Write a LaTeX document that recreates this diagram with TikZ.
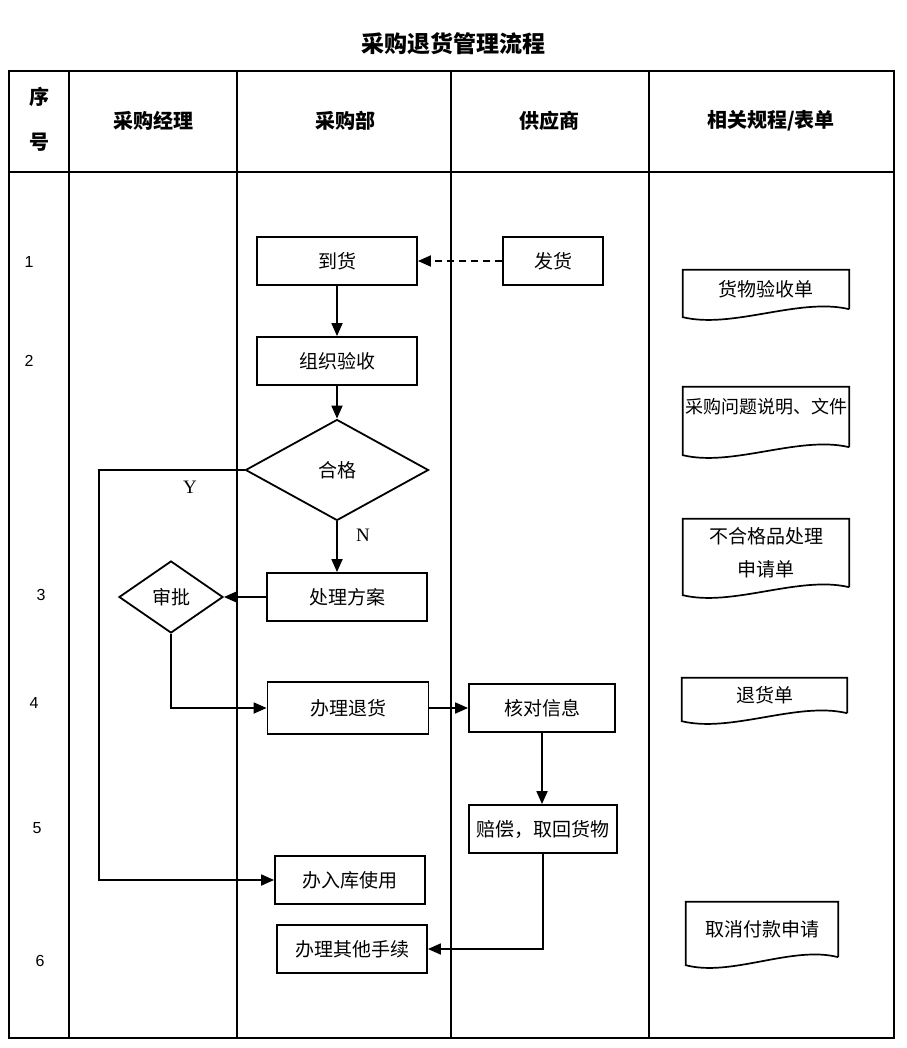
\documentclass[tikz,border=0pt]{standalone}
\usepackage{fontspec}
\setmainfont{Noto Sans CJK SC}
\newfontfamily\numfont{Liberation Sans}
\newfontfamily\ynfont{Liberation Serif}
\usetikzlibrary{calc,arrows.meta,shapes.geometric}
\def\docwave(#1){\draw[line width=1.7pt] (#1.south east) -- (#1.north east) -- (#1.north west) -- ($(#1.south west)+(0,8)$) .. controls ($(#1.south west)!0.3!(#1.south east)+(0,20)$) and ($(#1.south west)!0.7!(#1.south east)+(0,-12)$) .. (#1.south east);}

\begin{document}
\begin{tikzpicture}[x=1pt,y=-1pt,
		box/.style={draw,line width=1.8pt,minimum width=160pt,minimum height=48pt,inner sep=0pt,font=\fontsize{19}{22}\selectfont},
		choice/.style={draw,diamond,line width=1.8pt,inner sep=0pt,font=\fontsize{19}{22}\selectfont},
		form/.style={inner sep=0pt,font=\fontsize{19}{22}\selectfont},
		head/.style={font=\fontsize{20}{22}\selectfont\bfseries},
		num/.style={font=\fontsize{16}{18}\selectfont\numfont},
		yn/.style={font=\fontsize{19}{21}\selectfont\ynfont},
		arr/.style={line width=1.8pt,-{Triangle[length=13pt,width=11pt]}},
		grid/.style={line width=2.2pt}]
		%%%%% START %%%%%
		\useasboundingbox (0,0) rectangle (906,1048);
		
		\node[font=\fontsize{23}{25}\selectfont\bfseries] (ttl) at (453,44) {采购退货管理流程};
		
		% table
		\draw[line width=2.8pt] (9,71) rectangle (894,1038);
		\draw[line width=2.8pt] (9,172) -- (894,172);
		\foreach \x in {69,237,451,649}
			\draw[grid] (\x,71) -- (\x,1038);
		
		\node[head] (h0a) at (39,97) {序};
		\node[head] (h0b) at (39,142) {号};
		\node[head] (h1) at (153,121) {采购经理};
		\node[head] (h2) at (345,121) {采购部};
		\node[head] (h3) at (549,121) {供应商};
		\node[head] (h4) at (771,121) {相关规程/表单};
		
		\node[num] (r1) at (29,262) {1};
		\node[num] (r2) at (29,361) {2};
		\node[num] (r3) at (41,595) {3};
		\node[num] (r4) at (34,703) {4};
		\node[num] (r5) at (37,828) {5};
		\node[num] (r6) at (40,961) {6};
		
		% flow
		\node[box] (daohuo) at (337,261) {到货};
		\node[box,minimum width=100pt] (fahuo) at (553,261) {发货};
		\node[box] (yanshou) at (337,361) {组织验收};
		\node[choice,minimum width=183pt,minimum height=101pt] (hege) at (337,470) {合格};
		\node[box] (chuli) at (347,597) {处理方案};
		\node[choice,minimum width=104pt,minimum height=72pt] (shenpi) at (171,597) {审批};
		\node[box,minimum width=161pt,minimum height=52pt] (tuihuo) at (348,708) {办理退货};
		\node[box,minimum width=146pt] (hedui) at (542,708) {核对信息};
		\node[box,minimum width=148pt] (peichang) at (543,829) {赔偿，取回货物};
		\node[box,minimum width=150pt] (ruku) at (350,880) {办入库使用};
		\node[box,minimum width=150pt] (qita) at (352,949) {办理其他手续};
		
		\node[yn] (ylab) at (190,487) {Y};
		\node[yn] (nlab) at (363,535) {N};
		
		\draw[arr,dash pattern=on 7pt off 5pt] (fahuo) -- (daohuo);
		\draw[arr] (daohuo) -- (yanshou);
		\draw[arr] (yanshou) -- (hege);
		\draw[arr] (hege.south) -- (hege.south |- chuli.north);
		\draw[arr] (chuli) -- (shenpi);
		\draw[arr] (shenpi.south) |- (tuihuo.west);
		\draw[arr] (tuihuo) -- (hedui);
		\draw[arr] (hedui.south) -- (hedui.south |- peichang.north);
		\coordinate (yline) at (99,470);
		\draw[arr] (hege.west) -- (yline) |- (ruku.west);
		\draw[arr] (peichang.south) |- (qita.east);
		
		% forms
		\node[form,minimum width=166pt,minimum height=39pt] (f1) at (766,289.5) {货物验收单};
		\docwave(f1)
		\node[form,minimum width=166pt,minimum height=60pt,text height=20pt,text depth=28pt,font=\fontsize{18}{20}\selectfont] (f2) at (766,417) {采购问题说明、文件};
		\docwave(f2)
		\node[form,minimum width=166pt,minimum height=68pt,align=center,font=\fontsize{19}{33}\selectfont] (f3) at (766,553) {不合格品处理\\申请单};
		\docwave(f3)
		\node[form,minimum width=165pt,minimum height=35pt] (f4) at (764.5,695.5) {退货单};
		\docwave(f4)
		\node[form,minimum width=152pt,minimum height=55pt] (f5) at (762,929.5) {取消付款申请};
		\docwave(f5)
		
		%%%%% END %%%%%
\end{tikzpicture}
\end{document}
